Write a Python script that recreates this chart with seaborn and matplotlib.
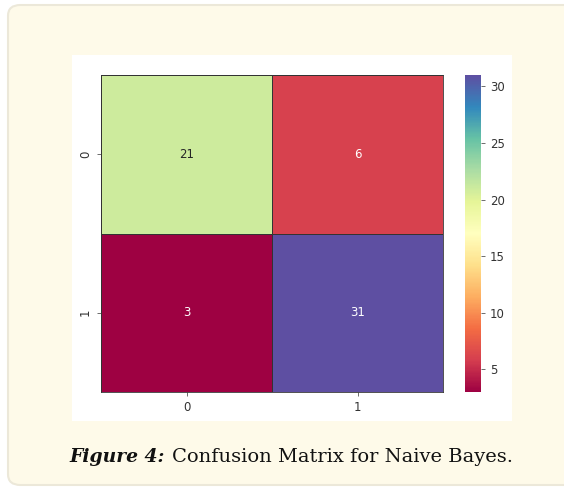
import numpy as np
import matplotlib
matplotlib.use("Agg")
import matplotlib.pyplot as plt
from matplotlib.patches import FancyBboxPatch, Rectangle
import seaborn as sns

# confusion matrix values (rows = true, cols = predicted)
class_labels = ["0", "1"]
row0 = [21, 6]
row1 = [3, 31]
cbar_ticks = [5, 10, 15, 20, 25, 30]

W, H = 564, 487
fig = plt.figure(figsize=(W / 100, H / 100), dpi=100)
fig.patch.set_facecolor("white")

def box(x0, y0, x1, y1):
    # pixel box (top-left origin) -> figure fraction rect
    return [x0 / W, 1 - y1 / H, (x1 - x0) / W, (y1 - y0) / H]

# cream page box with rounded corners (right side runs off the picture)
cream = FancyBboxPatch((8 / W, 1 - 485 / H), 1.2, (485 - 5) / H,
                       boxstyle="round,pad=0,rounding_size=0.022",
                       transform=fig.transFigure, facecolor="#fefae9",
                       edgecolor="#ece8d9", linewidth=1.5, zorder=0)
fig.patches.append(cream)

# white image area
fig.patches.append(Rectangle((72 / W, 1 - 421 / H), (512 - 72) / W, (421 - 55) / H,
                             transform=fig.transFigure, facecolor="white",
                             edgecolor="none", zorder=1))

ax = fig.add_axes(box(101, 75, 443, 392))
cax = fig.add_axes(box(465, 75, 481, 392))
ax.set_zorder(5)
cax.set_zorder(5)

cm = np.array([row0, row1])
sns.heatmap(cm, annot=True, fmt="d", cmap="Spectral", ax=ax, cbar_ax=cax,
            linewidths=0.6, linecolor="#333333",
            xticklabels=class_labels, yticklabels=class_labels,
            annot_kws={"fontsize": 8.5})
ax.tick_params(labelsize=8.5, length=3, width=0.6, color="#555555",
               labelcolor="#333333")
for t in ax.get_yticklabels():
    t.set_rotation(90)
    t.set_va("center")
cax.set_yticks(cbar_ticks)
cax.tick_params(labelsize=8.5, length=3, width=0.6, color="#555555",
                labelcolor="#333333")

# rectangle edge around heatmap
for s in ax.spines.values():
    s.set_visible(True)
    s.set_linewidth(0.6)
    s.set_edgecolor("#333333")

# caption
fig.text(165 / W, 1 - 457 / H, "Figure 4:", ha="right", va="center",
         fontsize=13.5, fontweight="bold", fontstyle="italic",
         family="DejaVu Serif", color="#111111")
fig.text(172 / W, 1 - 457 / H, "Confusion Matrix for Naive Bayes.", ha="left",
         va="center", fontsize=14, family="DejaVu Serif", color="#111111")

fig.savefig("out.png", dpi=100, facecolor=fig.get_facecolor())
